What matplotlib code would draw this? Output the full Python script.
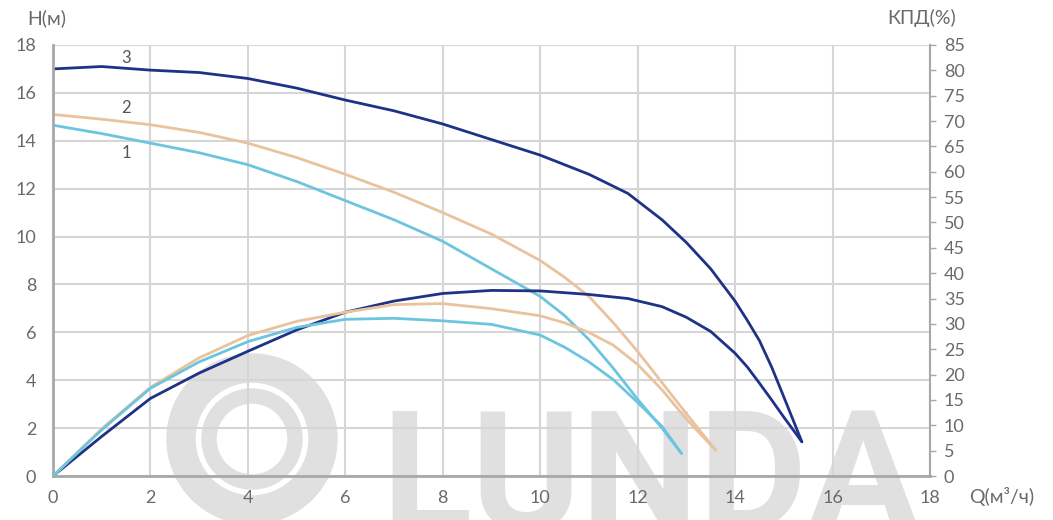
import matplotlib
matplotlib.use("Agg")
import matplotlib.pyplot as plt
from matplotlib.patches import Wedge

# pump curves (Q in m3/h, H in m, efficiency in %)
q3 = [0, 1, 2, 3, 4, 5, 6, 7, 8, 9, 10, 11, 11.8, 12.5, 13, 13.5, 14, 14.25,
      14.5, 14.75, 15, 15.37]
h3 = [17.0, 17.1, 16.95, 16.85, 16.6, 16.2, 15.7, 15.25, 14.7, 14.05, 13.4, 12.6,
      11.8, 10.7, 9.75, 8.65, 7.3, 6.5, 5.65, 4.55, 3.3, 1.43]
e3 = [0, 7.8, 15.3, 20.3, 24.6, 28.8, 32.3, 34.5, 36.0, 36.6, 36.5, 35.8,
      35.0, 33.4, 31.3, 28.5, 24.2, 21.5, 18.3, 15.0, 11.6, 6.75]

q2 = [0, 1, 2, 3, 4, 5, 6, 7, 8, 9, 10, 10.5, 11, 11.5, 12, 12.5, 13, 13.6]
h2 = [15.1, 14.9, 14.67, 14.35, 13.9, 13.3, 12.6, 11.85, 11.0, 10.1, 9.0, 8.3,
      7.5, 6.4, 5.2, 3.9, 2.6, 1.08]
e2 = [0, 9.3, 17.5, 23.3, 27.7, 30.5, 32.3, 33.8, 34.0, 33.0, 31.6, 30.2,
      28.3, 25.8, 22.0, 17.0, 11.2, 5.1]

q1 = [0, 1, 2, 3, 4, 5, 6, 7, 8, 9, 10, 10.5, 11, 11.5, 12, 12.5, 12.9]
h1 = [14.65, 14.3, 13.9, 13.5, 13.0, 12.3, 11.5, 10.7, 9.8, 8.65, 7.5, 6.7,
      5.7, 4.5, 3.2, 2.0, 0.94]
e1 = [0, 9.1, 17.3, 22.5, 26.5, 29.3, 30.9, 31.1, 30.6, 29.9, 27.8, 25.4,
      22.5, 19.0, 14.5, 9.8, 4.45]

x_ticks = [0, 2, 4, 6, 8, 10, 12, 14, 16, 18]
h_ticks = [0, 2, 4, 6, 8, 10, 12, 14, 16, 18]
e_ticks = list(range(0, 90, 5))

NAVY = "#1e3286"
TAN = "#e9c39d"
LBLUE = "#6cc5df"
GRID = "#d6d6d6"
SPINE = "#a8a8a8"
TXT = "#6a6a6a"
MARK = "#e0e0e0"

plt.rcParams["font.family"] = ["Lato", "DejaVu Sans"]

fig = plt.figure(figsize=(10.53, 5.2), dpi=100)
ax = fig.add_axes([0.0503, 0.0846, 0.8329, 0.8289])
ax2 = ax.twinx()
ax.set_zorder(1)
ax2.set_zorder(2)
ax.patch.set_alpha(0)
ax2.patch.set_alpha(0)

# LUNDA watermark behind the chart
fig.add_artist(Wedge((2.52, 0.81), 0.85, 0, 360, width=0.28,
                     transform=fig.dpi_scale_trans, color=MARK, zorder=0))
fig.add_artist(Wedge((2.52, 0.81), 0.50, 0, 360, width=0.14,
                     transform=fig.dpi_scale_trans, color=MARK, zorder=0))
fig.text(0.362, -0.02, "LUNDA", fontsize=120, fontweight="bold", color=MARK,
         ha="left", va="baseline", zorder=0, family=["Roboto", "DejaVu Sans"])

lw = 2.0
style = dict(lw=lw, solid_capstyle="round", solid_joinstyle="round")
ax.plot(q3, h3, color=NAVY, **style)
ax.plot(q2, h2, color=TAN, **style)
ax.plot(q1, h1, color=LBLUE, **style)
ax2.plot(q3, e3, color=NAVY, **style)
ax2.plot(q2, e2, color=TAN, **style)
ax2.plot(q1, e1, color=LBLUE, **style)

ax.text(1.5, 17.45, "3", color="#555555", fontsize=12, ha="center", va="center")
ax.text(1.5, 15.35, "2", color="#555555", fontsize=12, ha="center", va="center")
ax.text(1.5, 13.5, "1", color="#555555", fontsize=12, ha="center", va="center")

ax.set_xlim(0, 18)
ax.set_ylim(0, 18)
ax2.set_ylim(0, 85)
ax.set_xticks(x_ticks)
ax.set_yticks(h_ticks)
ax2.set_yticks(e_ticks)

ax.grid(True, color=GRID, lw=1.5)
for a in (ax, ax2):
    for s in a.spines.values():
        s.set_visible(False)
for side in ("left", "bottom"):
    ax.spines[side].set_visible(True)
    ax.spines[side].set_color(SPINE)
    ax.spines[side].set_linewidth(2)
ax2.spines["right"].set_visible(True)
ax2.spines["right"].set_color(SPINE)
ax2.spines["right"].set_linewidth(1.5)

ax.tick_params(axis="both", length=0, labelsize=13, labelcolor=TXT)
ax.tick_params(axis="y", pad=12)
ax.tick_params(axis="x", pad=10)
ax2.tick_params(axis="y", length=4, width=1, color=SPINE, labelsize=13,
                labelcolor=TXT, pad=6)

fig.text(0.026, 0.965, "H(м)", fontsize=14, color=TXT, ha="left", va="center")
fig.text(0.843, 0.965, "КПД(%)", fontsize=14, color=TXT, ha="left", va="center")
fig.text(0.92, 0.045, "Q(м³/ч)", fontsize=14, color=TXT, ha="left", va="center")

fig.savefig("out.png", dpi=100)
